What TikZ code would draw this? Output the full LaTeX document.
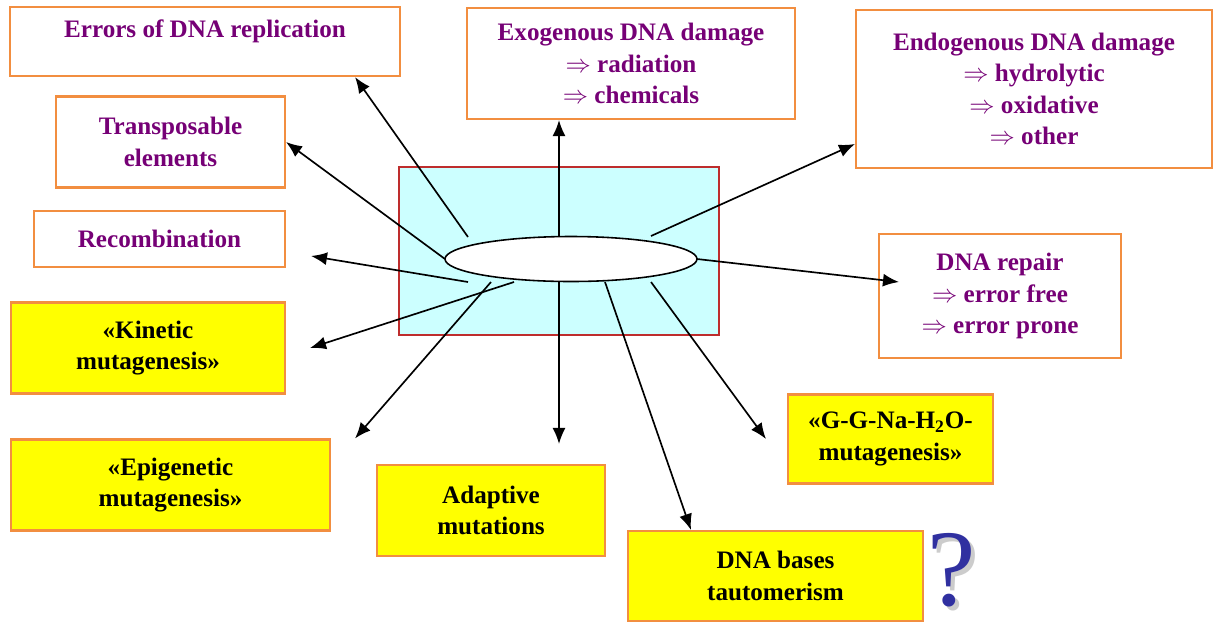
\documentclass[tikz,border=0pt]{standalone}
\usepackage{fontspec}
\setmainfont{Liberation Serif}
\usetikzlibrary{arrows.meta,shapes.geometric}
\definecolor{boxline}{RGB}{242,142,64}
\definecolor{plum}{RGB}{118,0,118}
\definecolor{mutyellow}{RGB}{255,255,0}
\definecolor{hubfill}{RGB}{204,255,255}
\definecolor{hubline}{RGB}{190,45,45}
\definecolor{qblue}{RGB}{48,48,160}

\begin{document}
\begin{tikzpicture}[x=0.02cm, y=-0.02cm, >={Latex[length=0.32cm,width=0.26cm]},
  font=\fontsize{14.3}{17.9}\selectfont\bfseries,
  whitebox/.style={draw=boxline, line width=1.2pt, fill=white, text=plum, align=center},
  yellowbox/.style={draw=boxline, line width=1.2pt, fill=mutyellow, align=center},
  qmark/.style={inner sep=0pt, anchor=base, text depth=0pt, font=\fontsize{62}{64}\selectfont},
  arr/.style={->, line width=0.95pt}]
  \useasboundingbox (0,0) rectangle (1216,623);

  % white boxes
  \node[whitebox, minimum width=7.8cm, minimum height=1.38cm, inner ysep=0pt,
        text height=0.6cm, text depth=0.78cm] (err) at (205,41.5) {Errors of DNA replication};
  \node[whitebox, minimum width=6.56cm, minimum height=2.22cm] (exo) at (631,63.5)
    {Exogenous DNA damage\\ $\Rightarrow$ radiation\\ $\Rightarrow$ chemicals};
  \node[whitebox, minimum width=7.12cm, minimum height=3.16cm] (endo) at (1034,89)
    {Endogenous DNA damage\\ $\Rightarrow$ hydrolytic\\ $\Rightarrow$ oxidative\\ $\Rightarrow$ other};
  \node[whitebox, minimum width=4.58cm, minimum height=1.82cm] (trans) at (170.5,142)
    {Transposable\\ elements};
  \node[whitebox, minimum width=5.02cm, minimum height=1.12cm] (rec) at (159.5,239) {Recombination};
  \node[whitebox, minimum width=4.84cm, minimum height=2.48cm] (rep) at (1000,296)
    {DNA repair\\ $\Rightarrow$ error free\\ $\Rightarrow$ error prone};

  % yellow boxes
  \node[yellowbox, minimum width=5.48cm, minimum height=1.82cm] (kin) at (148,348)
    {«Kinetic\\ mutagenesis»};
  \node[yellowbox, minimum width=6.38cm, minimum height=1.82cm] (epi) at (170.5,485)
    {«Epigenetic\\ mutagenesis»};
  \node[yellowbox, minimum width=4.56cm, minimum height=1.82cm] (ada) at (491,510.5)
    {Adaptive\\ mutations};
  \node[yellowbox, minimum width=4.1cm, minimum height=1.78cm] (gg) at (890.5,439)
    {«G-G-Na-H\textsubscript{2}O-\\ mutagenesis»};
  \node[yellowbox, minimum width=5.9cm, minimum height=1.8cm] (tau) at (775.5,576)
    {DNA bases\\ tautomerism};

  % central block
  \node[draw=hubline, line width=1pt, fill=hubfill, minimum width=6.4cm, minimum height=3.36cm] (hub) at (559,251) {};

  \coordinate (sErr) at (468,237);
  \coordinate (sExo) at (559,236);
  \coordinate (sEndo) at (651,236);
  \coordinate (sRec) at (468,282);
  \coordinate (sEpi) at (491,282);
  \coordinate (sKin) at (514,282);
  \coordinate (sAda) at (559,282);
  \coordinate (sTau) at (605,282);
  \coordinate (sGg) at (651,282);

  \draw[arr] (sErr) -- ([xshift=-0.92cm]err.south east);
  \draw[arr] (445,259) -- (trans.east);
  \draw[arr] (sExo) -- (sExo |- exo.south);
  \draw[arr] (sEndo) -- ([yshift=-1.1cm]endo.west);
  \draw[arr] (697,259) -- ([xshift=0.42cm,yshift=0.28cm]rep.west);
  \draw[arr] (sRec) -- ([xshift=0.5cm,yshift=-0.34cm]rec.east);
  \draw[arr] (sKin) -- ([xshift=0.48cm]kin.east);
  \draw[arr] (sEpi) -- ([xshift=0.48cm]epi.north east);
  \draw[arr, shorten >=0.4cm] (sAda) -- (sAda |- ada.north);
  \draw[arr] (sTau) -- ([xshift=1.28cm]tau.north west);
  \draw[arr] (sGg) -- ([xshift=-0.42cm]gg.west);

  \node[draw, line width=0.9pt, fill=white, ellipse, minimum width=5.04cm, minimum height=0.9cm] (ell) at (571,259) {};

  % question mark
  \node[qmark, text=gray!40] (qsh) at (956,609) {?};
  \node[qmark, text=qblue] (qm) at (952,605) {?};
\end{tikzpicture}
\end{document}
